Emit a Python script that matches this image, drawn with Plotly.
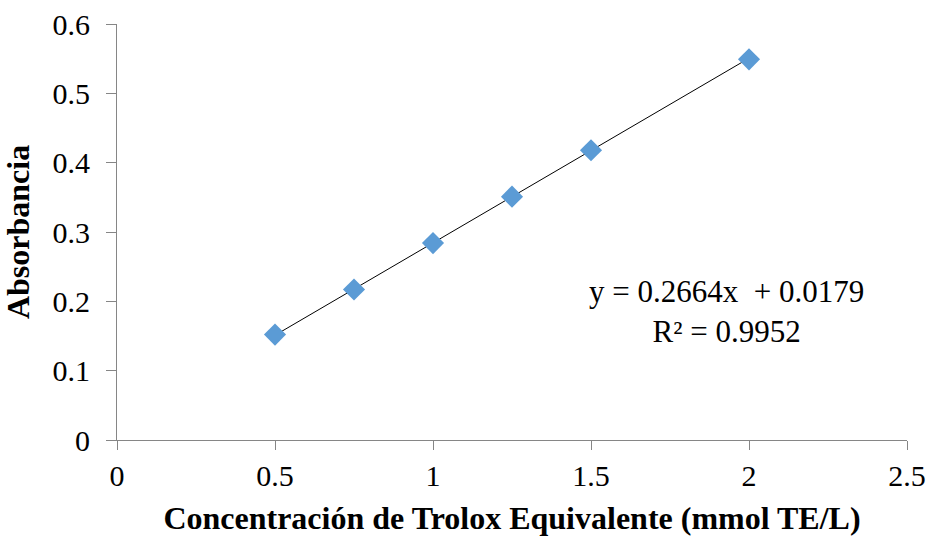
import plotly.graph_objects as go

# Trolox calibration data
concentracion = [0.5, 0.75, 1.0, 1.25, 1.5, 2.0]
absorbancia = [0.152, 0.217, 0.284, 0.351, 0.418, 0.549]

# Linear fit reported on the chart
pendiente = 0.2664
intercepto = 0.0179
r2 = 0.9952

x_tick_vals = [0, 0.5, 1, 1.5, 2, 2.5]
x_tick_text = ["0", "0.5", "1", "1.5", "2", "2.5"]
y_tick_vals = [0, 0.1, 0.2, 0.3, 0.4, 0.5, 0.6]
y_tick_text = ["0", "0.1", "0.2", "0.3", "0.4", "0.5", "0.6"]

serif = "Liberation Serif"

fit_x = [min(concentracion), max(concentracion)]
fit_y = [pendiente * v + intercepto for v in fit_x]

fig = go.Figure()
fig.add_trace(go.Scatter(
    x=fit_x, y=fit_y, mode="lines",
    line=dict(color="#000000", width=1),
    hoverinfo="skip", showlegend=False,
))
fig.add_trace(go.Scatter(
    x=concentracion, y=absorbancia, mode="markers",
    marker=dict(symbol="diamond", size=17, color="#5B9BD5", line=dict(width=0)),
    showlegend=False,
))

fig.add_annotation(
    x=1.93, y=0.186, xref="x", yref="y",
    text=f"y = {pendiente}x  + {intercepto}<br>R² = {r2}",
    showarrow=False, align="center",
    font=dict(family=serif, size=31, color="#000000"),
)

axis_common = dict(
    showgrid=False, zeroline=False, showline=True,
    linecolor="#868686", linewidth=1,
    ticks="outside", tickcolor="#868686", tickwidth=1,
    tickfont=dict(family=serif, size=30, color="#000000"),
    automargin=False,
)

fig.update_layout(
    width=931, height=540,
    margin=dict(l=117, r=24, t=24, b=100),
    paper_bgcolor="white", plot_bgcolor="white",
    font=dict(family=serif),
    xaxis=dict(
        range=[0, 2.5], tickvals=x_tick_vals, ticktext=x_tick_text,
        ticklen=9, ticklabelstandoff=0,
        title=dict(text="<b>Concentración de Trolox Equivalente (mmol TE/L)</b>",
                   font=dict(family=serif, size=32, color="#000000"), standoff=15),
        **axis_common,
    ),
    yaxis=dict(
        range=[0, 0.6], tickvals=y_tick_vals, ticktext=y_tick_text,
        ticklen=10, ticklabelstandoff=10,
        title=dict(text="<b>Absorbancia</b>",
                   font=dict(family=serif, size=32, color="#000000"), standoff=14),
        **axis_common,
    ),
)

fig.write_html("out.html")
